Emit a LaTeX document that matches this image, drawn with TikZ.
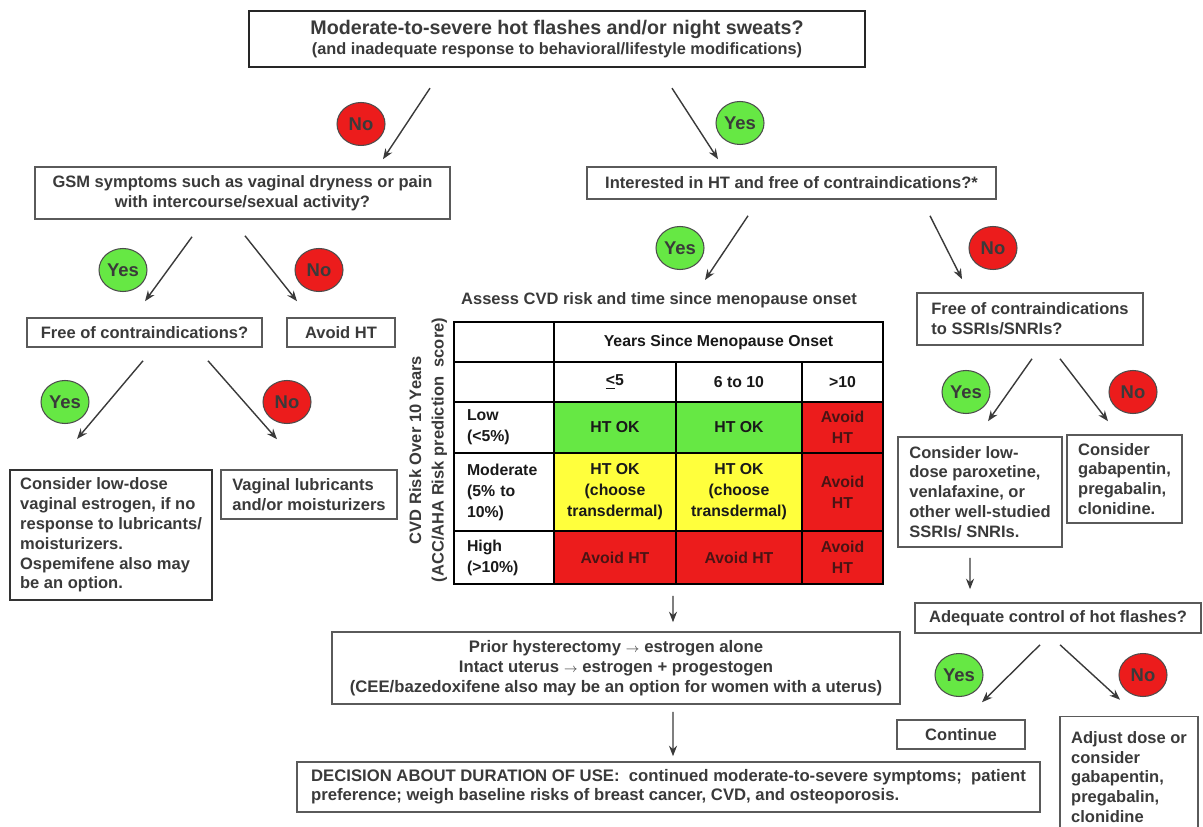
\documentclass[tikz,border=0pt]{standalone}
\usepackage{fontspec}
\setmainfont{Liberation Sans}
\usetikzlibrary{arrows.meta, shapes.geometric}
\definecolor{txtgray}{HTML}{3A3A3A}
\definecolor{boxgray}{HTML}{5A5A5A}
\definecolor{okgreen}{HTML}{66E844}
\definecolor{okyellow}{HTML}{FFFF3C}
\definecolor{stopred}{HTML}{EC1C1C}
\definecolor{avoidtxt}{HTML}{4A1414}
\newcommand{\bodyfont}{\fontsize{9.4}{11.3}\selectfont\bfseries}
\newcommand{\titlefont}{\fontsize{11.2}{13}\selectfont\bfseries}
\newcommand{\subfont}{\fontsize{9.3}{10.5}\selectfont\bfseries}
\newcommand{\tabfont}{\fontsize{9}{12}\selectfont\bfseries}

\begin{document}
\begin{tikzpicture}[x=0.02cm, y=-0.02cm,
  box/.style={draw=boxgray, line width=0.9pt, fill=white, inner sep=0pt,
              align=center, font=\bodyfont, text=txtgray},
  lbox/.style={box, align=left},
  ans/.style={ellipse, draw=black!70, line width=0.6pt, inner sep=0pt,
              minimum width=0.96cm, minimum height=0.86cm,
              font=\fontsize{10.5}{12}\selectfont\bfseries, text=txtgray},
  yesdot/.style={ans, fill=okgreen},
  nodot/.style={ans, fill=stopred},
  cell/.style={draw=black, line width=0.9pt, inner sep=0pt, align=center,
               font=\tabfont, text=black!90},
  rowcell/.style={cell, fill=white, align=left, text width=1.48cm, inner xsep=0.26cm},
  avoid/.style={cell, fill=stopred, text=avoidtxt},
  arr/.style={-{Stealth[length=6pt, width=4.6pt]}, line width=0.8pt, draw=txtgray}]
  \useasboundingbox (0,0) rectangle (1203,827);
  \clip (0,0) rectangle (1203,827);

  % first question
  \node[box, line width=1.3pt, draw=black!85, minimum width=12.32cm, minimum height=1.12cm,
        font=\subfont] (top) at (557,39)
    {{\titlefont Moderate-to-severe hot flashes and/or night sweats?}\\[1pt]
     (and inadequate response to behavioral/lifestyle modifications)};
  \node[nodot] (noA) at (361,124) {No};
  \node[yesdot] (yesA) at (740,123) {Yes};

  % left branch
  \node[box, minimum width=8.3cm, minimum height=1.04cm] (gsm) at (242.5,193)
    {GSM symptoms such as vaginal dryness or pain\\with intercourse/sexual activity?};
  \node[yesdot] (yesB) at (123,270) {Yes};
  \node[nodot] (noB) at (319,270) {No};
  \node[box, minimum width=4.7cm, minimum height=0.58cm] (free) at (144.5,332.5)
    {Free of contraindications?};
  \node[box, minimum width=2.16cm, minimum height=0.58cm] (avoidht) at (341,332.5) {Avoid HT};
  \node[yesdot] (yesC) at (65,402) {Yes};
  \node[nodot] (noC) at (287,402) {No};
  \node[lbox, line width=1.2pt, draw=black!80, minimum width=4.04cm, minimum height=2.6cm]
    (lowdose) at (111,535)
    {Consider low-dose\\vaginal estrogen, if no\\response to lubricants/\\moisturizers.\\
     Ospemifene also may\\be an option.};
  \node[lbox, minimum width=3.52cm, minimum height=0.98cm] (lubric) at (309,494.5)
    {Vaginal lubricants\\and/or moisturizers};

  % middle branch
  \node[box, minimum width=8.18cm, minimum height=0.64cm] (interest) at (791.5,183)
    {Interested in HT and free of contraindications?*};
  \node[yesdot] (yesD) at (680,248) {Yes};
  \node[nodot] (noD) at (993,248) {No};
  \node[font=\bodyfont, text=txtgray, inner sep=0pt] (assess) at (659,300)
    {Assess CVD risk and time since menopause onset};

  % risk table
  \node[cell, fill=white, minimum width=2.00cm, minimum height=0.80cm] (c00) at (504,342) {};
  \node[cell, fill=white, minimum width=6.58cm, minimum height=0.80cm] (c01) at (718.5,342)
    {Years Since Menopause Onset};
  \node[cell, fill=white, minimum width=2.00cm, minimum height=0.80cm] (c10) at (504,382) {};
  \node[cell, fill=white, minimum width=2.44cm, minimum height=0.80cm] (c11) at (615,382) {\underline{<}5};
  \node[cell, fill=white, minimum width=2.52cm, minimum height=0.80cm] (c12) at (739,382) {6 to 10};
  \node[cell, fill=white, minimum width=1.62cm, minimum height=0.80cm] (c13) at (842.5,382) {>10};
  \node[rowcell, minimum height=1.02cm] (c20) at (504,427.5) {Low\\(<5\%)};
  \node[cell, fill=okgreen, minimum width=2.44cm, minimum height=1.02cm] (c21) at (615,427.5) {HT OK};
  \node[cell, fill=okgreen, minimum width=2.52cm, minimum height=1.02cm] (c22) at (739,427.5) {HT OK};
  \node[avoid, minimum width=1.62cm, minimum height=1.02cm] (c23) at (842.5,427.5) {Avoid\\HT};
  \node[rowcell, minimum height=1.56cm] (c30) at (504,492) {Moderate\\(5\% to\\10\%)};
  \node[cell, fill=okyellow, minimum width=2.44cm, minimum height=1.56cm] (c31) at (615,492)
    {HT OK\\(choose\\transdermal)};
  \node[cell, fill=okyellow, minimum width=2.52cm, minimum height=1.56cm] (c32) at (739,492)
    {HT OK\\(choose\\transdermal)};
  \node[avoid, minimum width=1.62cm, minimum height=1.56cm] (c33) at (842.5,492) {Avoid\\HT};
  \node[rowcell, minimum height=1.06cm] (c40) at (504,557.5) {High\\(>10\%)};
  \node[avoid, minimum width=2.44cm, minimum height=1.06cm] (c41) at (615,557.5) {Avoid HT};
  \node[avoid, minimum width=2.52cm, minimum height=1.06cm] (c42) at (739,557.5) {Avoid HT};
  \node[avoid, minimum width=1.62cm, minimum height=1.06cm] (c43) at (842.5,557.5) {Avoid\\HT};
  \node[rotate=90, align=center, inner sep=0pt, text=txtgray,
        font=\fontsize{9.4}{12.8}\selectfont\bfseries] (riskax) at (428,450)
    {CVD Risk Over 10 Years\\(ACC/AHA Risk prediction\ \ score)};

  \node[box, minimum width=11.36cm, minimum height=1.44cm, font=\fontsize{9.5}{11.3}\selectfont\bfseries]
    (prior) at (616,668)
    {Prior hysterectomy {\scriptsize$\rightarrow$} estrogen alone\\
     Intact uterus {\scriptsize$\rightarrow$} estrogen + progestogen\\
     (CEE/bazedoxifene also may be an option for women with a uterus)};
  \node[lbox, minimum width=14.86cm, minimum height=1.0cm, font=\fontsize{9.5}{10.8}\selectfont\bfseries]
    (decision) at (668.5,787)
    {DECISION ABOUT DURATION OF USE:\ \ continued moderate-to-severe symptoms;\ \ patient\\
     preference; weigh baseline risks of breast cancer, CVD, and osteoporosis.};

  % right branch
  \node[lbox, minimum width=4.52cm, minimum height=1.04cm] (ssri) at (1030,319)
    {Free of contraindications\\to SSRIs/SNRIs?};
  \node[yesdot] (yesE) at (966,392) {Yes};
  \node[nodot] (noE) at (1133,392) {No};
  \node[lbox, minimum width=3.28cm, minimum height=2.2cm] (parox) at (980,492)
    {Consider low-\\dose paroxetine,\\venlafaxine, or\\other well-studied\\SSRIs/ SNRIs.};
  \node[lbox, minimum width=2.3cm, minimum height=1.76cm] (gaba) at (1124.5,479)
    {Consider\\gabapentin,\\pregabalin,\\clonidine.};
  \node[box, minimum width=5.72cm, minimum height=0.6cm] (adequate) at (1058,618)
    {Adequate control of hot flashes?};
  \node[yesdot] (yesF) at (959,675) {Yes};
  \node[nodot] (noF) at (1143,675) {No};
  \node[box, minimum width=2.56cm, minimum height=0.58cm] (cont) at (961,734.5) {Continue};
  \node[lbox, minimum width=2.76cm, minimum height=2.42cm] (adjust) at (1129,777)
    {Adjust dose or\\consider\\gabapentin,\\pregabalin,\\clonidine};

  % connectors
  \draw[arr] ([xshift=-2.54cm, yshift=-0.40cm]top.south) -- ([xshift=2.81cm, yshift=0.14cm]gsm.north);
  \draw[arr] ([xshift=2.30cm, yshift=-0.40cm]top.south) -- ([xshift=-1.47cm, yshift=0.14cm]interest.north);
  \draw[arr] ([xshift=-1.01cm, yshift=-0.34cm]gsm.south) -- ([xshift=0.01cm, yshift=0.32cm]free.north);
  \draw[arr] ([xshift=0.05cm, yshift=-0.32cm]gsm.south) -- ([xshift=-0.88cm, yshift=0.32cm]avoidht.north);
  \draw[arr] ([xshift=-0.03cm, yshift=-0.26cm]free.south) -- ([xshift=-0.68cm, yshift=0.60cm]lowdose.north);
  \draw[arr] ([xshift=1.27cm, yshift=-0.26cm]free.south) -- ([xshift=-0.64cm, yshift=0.60cm]lubric.north);
  \draw[arr] ([xshift=-0.87cm, yshift=-0.32cm]interest.south) -- ([xshift=0.92cm, yshift=0.40cm]assess.center);
  \draw[arr] ([xshift=2.77cm, yshift=-0.32cm]interest.south) -- ([xshift=-1.36cm, yshift=0.26cm]ssri.north);
  \draw[arr] ([xshift=-1.32cm, yshift=-0.22cm]c42.south) -- ([xshift=1.14cm, yshift=0.18cm]prior.north);
  \draw[arr] ([xshift=1.14cm, yshift=-0.14cm]prior.south) -- ([xshift=0.09cm, yshift=0.10cm]decision.north);
  \draw[arr] ([xshift=0.04cm, yshift=-0.26cm]ssri.south) -- ([xshift=0.16cm, yshift=0.30cm]parox.north);
  \draw[arr] ([xshift=0.60cm, yshift=-0.26cm]ssri.south) -- ([xshift=-0.33cm, yshift=0.26cm]gaba.north);
  \draw[arr] ([xshift=-0.20cm, yshift=-0.20cm]parox.south) -- ([xshift=-1.76cm, yshift=0.26cm]adequate.north);
  \draw[arr] ([xshift=-0.36cm, yshift=-0.22cm]adequate.south) -- ([xshift=0.42cm, yshift=0.34cm]cont.north);
  \draw[arr] ([xshift=0.04cm, yshift=-0.22cm]adequate.south) -- ([xshift=-0.18cm, yshift=0.32cm]adjust.north);
\end{tikzpicture}
\end{document}
